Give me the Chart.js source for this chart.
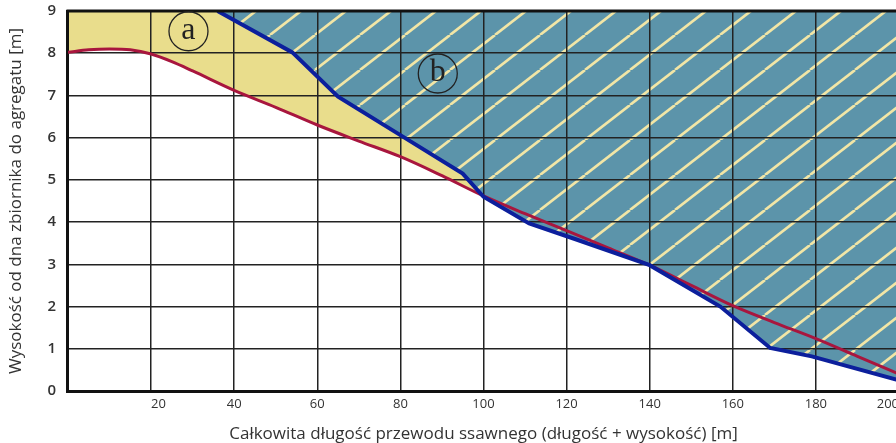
<!DOCTYPE html>
<html>
<head>
<meta charset="utf-8">
<script src="https://cdn.jsdelivr.net/npm/chart.js@4"></script>
<style>
  html, body { margin: 0; padding: 0; background: #fff; overflow: hidden; }
  #wrap { width: 904px; height: 443px; }
</style>
</head>
<body>
<div id="wrap"><canvas id="chart" width="904" height="443"></canvas></div>
<script>
// red curve (limit) and blue curve (measured)
var redX = [0, 5, 10, 15, 20, 25, 30, 40, 50, 60, 70, 80, 90, 100, 110, 120, 130, 140, 150, 160, 170, 180, 190, 200];
var redY = [8.02, 8.08, 8.1, 8.08, 7.98, 7.8, 7.58, 7.12, 6.72, 6.3, 5.92, 5.55, 5.1, 4.62, 4.2, 3.8, 3.39, 2.98, 2.5, 2.02, 1.62, 1.24, 0.82, 0.4];
var blueX = [36, 54, 65, 80, 95, 100, 111, 122, 140, 157, 169, 179, 200];
var blueY = [9, 8.02, 6.97, 6.06, 5.15, 4.6, 3.97, 3.6, 2.98, 2.0, 1.02, 0.82, 0.25];
var xTicks = [20, 40, 60, 80, 100, 120, 140, 160, 180, 200];
var yTicks = [0, 1, 2, 3, 4, 5, 6, 7, 8, 9];
var regionLabels = ['a', 'b'];
var regionX = [29, 89];
var regionY = [8.52, 7.52];

function pts(xs, ys) {
  return xs.map(function (x, i) { return { x: x, y: ys[i] }; });
}

function hatch() {
  var c = document.createElement('canvas');
  c.width = 45; c.height = 35;
  var g = c.getContext('2d');
  g.fillStyle = '#5c94aa';
  g.fillRect(0, 0, 45, 35);
  g.strokeStyle = '#f2e6a6';
  g.lineWidth = 2.6;
  for (var k = -1; k <= 1; k++) {
    g.beginPath();
    g.moveTo(k * 45, 35);
    g.lineTo(k * 45 + 45, 0);
    g.stroke();
  }
  return g.createPattern(c, 'repeat');
}

var circles = {
  id: 'circles',
  afterDatasetsDraw: function (chart) {
    var ctx = chart.ctx;
    var xs = chart.scales.x, ys = chart.scales.y;
    var area = chart.chartArea;
    ctx.save();
    // top frame line
    ctx.beginPath();
    ctx.moveTo(area.left - 1.5, area.top);
    ctx.lineTo(area.right, area.top);
    ctx.lineWidth = 3;
    ctx.strokeStyle = '#111';
    ctx.stroke();
    for (var i = 0; i < regionLabels.length; i++) {
      var px = xs.getPixelForValue(regionX[i]);
      var py = ys.getPixelForValue(regionY[i]);
      ctx.beginPath();
      ctx.arc(px, py, 19.5, 0, Math.PI * 2);
      ctx.lineWidth = 1.3;
      ctx.strokeStyle = '#222';
      ctx.stroke();
      ctx.fillStyle = '#222';
      ctx.font = '32px "Liberation Serif"';
      ctx.textAlign = 'center';
      ctx.textBaseline = 'middle';
      ctx.fillText(regionLabels[i], px, py - 1);
    }
    ctx.restore();
  }
};

var ctx = document.getElementById('chart').getContext('2d');
var chart = new Chart(ctx, {
  type: 'line',
  data: {
    datasets: [{
      label: 'b',
      data: pts(blueX, blueY),
      borderColor: '#0c1f9c',
      borderWidth: 4,
      pointRadius: 0,
      tension: 0,
      fill: 'end',
      backgroundColor: hatch()
    }, {
      label: 'a',
      data: pts(redX, redY),
      borderColor: '#a8163e',
      borderWidth: 3,
      pointRadius: 0,
      cubicInterpolationMode: 'monotone',
      fill: 'end',
      backgroundColor: '#e9dd8c'
    }]
  },
  options: {
    responsive: false,
    animation: false,
    layout: { padding: { top: 11, right: 4.5, left: 0, bottom: 0 } },
    plugins: {
      legend: { display: false },
      tooltip: { enabled: false },
      filler: { drawTime: 'beforeDraw' }
    },
    scales: {
      x: {
        type: 'linear',
        min: 0, max: 200,
        afterBuildTicks: function (s) { s.ticks = xTicks.map(function (v) { return { value: v }; }); },
        grid: { color: '#222', lineWidth: 1.5, drawTicks: false },
        border: { color: '#111', width: 3 },
        ticks: { color: '#333', font: { family: 'Open Sans', size: 13 }, padding: 5, align: 'inner', maxRotation: 0 },
        title: { display: true, text: 'Całkowita długość przewodu ssawnego (długość + wysokość) [m]', color: '#333', font: { family: 'Open Sans', size: 17 }, padding: { top: 7, bottom: -1 } }
      },
      y: {
        min: 0, max: 9,
        afterBuildTicks: function (s) { s.ticks = yTicks.map(function (v) { return { value: v }; }); },
        afterFit: function (s) { s.paddingTop = 8; s.paddingBottom = 8; },
        grid: { color: '#222', lineWidth: 1.5, drawTicks: false },
        border: { color: '#111', width: 3 },
        ticks: { color: '#333', font: { family: 'Open Sans', size: 15, weight: '600' }, padding: 12 },
        title: { display: true, text: 'Wysokość od dna zbiornika do agregatu [m]', color: '#333', font: { family: 'Open Sans', size: 17 }, padding: { top: 6, bottom: 9 } }
      }
    }
  },
  plugins: [circles]
});
</script>
</body>
</html>
